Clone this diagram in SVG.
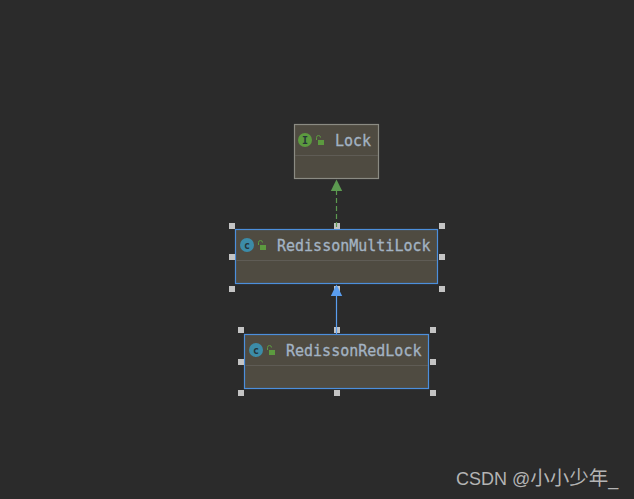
<svg xmlns="http://www.w3.org/2000/svg" width="634" height="499" viewBox="0 0 634 499">
<style>
.box{fill:#4f4b41;stroke-width:1.2}
.plain{stroke:#8b8b83}
.sel{stroke:#4c8fdc}
.div{stroke:#5f5c55;stroke-width:1}
.name{font-family:"DejaVu Sans Mono","Liberation Mono",monospace;font-size:15px;fill:#a3b3c3;stroke:#a3b3c3;stroke-width:.3}
.h{fill:#c4c4c4}
.lock{fill:#5c9a3f}
.shackle{fill:none;stroke:#5c9a3f;stroke-width:1}
.ic{font-family:"DejaVu Sans Mono","Liberation Mono",monospace;font-size:10px;font-weight:700;text-anchor:middle;fill:#26343a}
</style>
<rect width="634" height="499" fill="#2b2b2b"/>
<g id="node-lock">
<rect class="box plain" x="294.500" y="124.500" width="84" height="54"/>
<line class="div" x1="295" y1="155.500" x2="378" y2="155.500"/>
<circle cx="305" cy="140" r="7" fill="#5c9a3f"/>
<text class="ic" x="305" y="143.500">I</text>
<path class="shackle" d="M316.500 140v-2.500a2 2 0 0 1 4 0"/>
<rect class="lock" x="318" y="140" width="6" height="5"/>
<text class="name" x="335" y="146">Lock</text>
</g>
<g id="node-multilock">
<rect class="box sel" x="235.500" y="229.500" width="202" height="54"/>
<line class="div" x1="236.500" y1="260.500" x2="437" y2="260.500"/>
<circle cx="247" cy="245" r="7" fill="#3c8ca8"/>
<text class="ic" x="247" y="248.500">c</text>
<path class="shackle" d="M258.500 245v-2.500a2 2 0 0 1 4 0"/>
<rect class="lock" x="260" y="245" width="6" height="5"/>
<text class="name" x="277" y="251">RedissonMultiLock</text>
<g class="h">
<rect x="229" y="223" width="6" height="6"/><rect x="334" y="223" width="6" height="6"/><rect x="439" y="223" width="6" height="6"/>
<rect x="229" y="254" width="6" height="6"/><rect x="439" y="254" width="6" height="6"/>
<rect x="229" y="286" width="6" height="6"/><rect x="334" y="286" width="6" height="6"/><rect x="439" y="286" width="6" height="6"/>
</g>
</g>
<g id="node-redlock">
<rect class="box sel" x="244.500" y="334.500" width="184" height="54"/>
<line class="div" x1="245.500" y1="365.500" x2="428" y2="365.500"/>
<circle cx="256" cy="350" r="7" fill="#3c8ca8"/>
<text class="ic" x="256" y="353.500">c</text>
<path class="shackle" d="M267.500 350v-2.500a2 2 0 0 1 4 0"/>
<rect class="lock" x="269" y="350" width="6" height="5"/>
<text class="name" x="286" y="356">RedissonRedLock</text>
<g class="h">
<rect x="238" y="327" width="6" height="6"/><rect x="334" y="327" width="6" height="6"/><rect x="430" y="327" width="6" height="6"/>
<rect x="238" y="359" width="6" height="6"/><rect x="430" y="359" width="6" height="6"/>
<rect x="238" y="390" width="6" height="6"/><rect x="334" y="390" width="6" height="6"/><rect x="430" y="390" width="6" height="6"/>
</g>
</g>
<g id="connectors">
<line x1="336.500" y1="190" x2="336.500" y2="229" stroke="#5c9a50" stroke-width="1.2" stroke-dasharray="5 3"/>
<polygon points="336.500,179.500 330.800,191 342.200,191" fill="#5c9a50"/>
<line x1="336.500" y1="295" x2="336.500" y2="334" stroke="#5a9ef0" stroke-width="1.2"/>
<polygon points="336.500,284.500 330.800,296 342.200,296" fill="#5a9ef0"/>
</g>
<text x="456" y="485" font-family="'Liberation Sans','Noto Sans CJK SC',sans-serif" font-size="18" fill="#b4b4b4">CSDN @<tspan font-size="19.500">小小少年</tspan>_</text>
</svg>
